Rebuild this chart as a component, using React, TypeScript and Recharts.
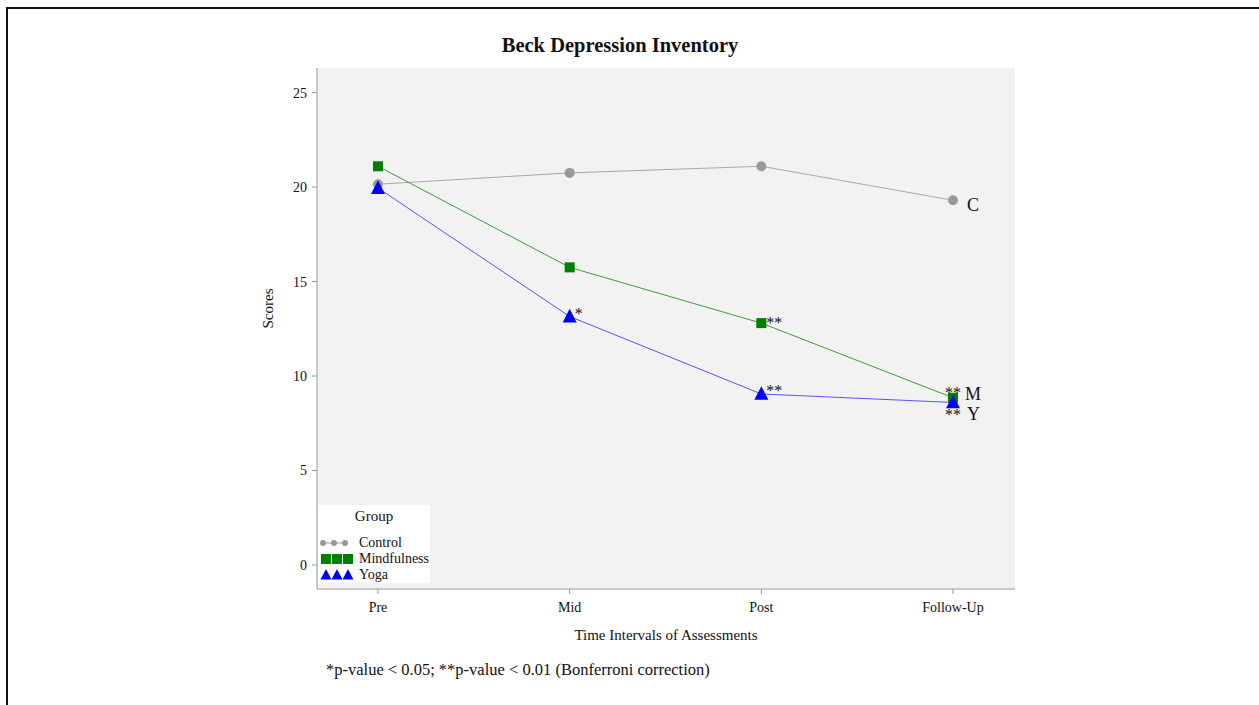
import React from 'react';
import {
  LineChart,
  Line,
  XAxis,
  YAxis,
  CartesianGrid,
  Legend,
  LabelList,
} from 'recharts';

const categories = ['Pre', 'Mid', 'Post', 'Follow-Up'];
const control = [20.15, 20.75, 21.1, 19.3];
const mindfulness = [21.1, 15.75, 12.8, 8.85];
const yoga = [19.95, 13.15, 9.05, 8.6];
const mindfulnessMarks = ['', '', '**', '**M'];
const yogaMarks = ['', '*', '**', '** Y'];
const controlMarks = ['', '', '', 'C'];
const yTicks = [0, 5, 10, 15, 20, 25];

const data = categories.map((name, i) => ({
  name,
  control: control[i],
  mindfulness: mindfulness[i],
  yoga: yoga[i],
  cMark: controlMarks[i],
  mMark: mindfulnessMarks[i],
  yMark: yogaMarks[i],
}));

const FONT = '"Liberation Serif", "DejaVu Serif", serif';
const GRAY = '#999999';
const GREEN = '#008000';
const BLUE = '#0000ff';

const tri = (cx: number, cy: number, s: number) =>
  `${cx},${cy - s * 0.55} ${cx - s / 2},${cy + s * 0.42} ${cx + s / 2},${cy + s * 0.42}`;

const CircleDot = (p: any) => <circle cx={p.cx} cy={p.cy} r={5} fill={GRAY} />;
const SquareDot = (p: any) => <rect x={p.cx - 5} y={p.cy - 5} width={10} height={10} fill={GREEN} />;
const TriDot = (p: any) => <polygon points={tri(p.cx, p.cy, 14)} fill={BLUE} />;

const controlLabel = (p: any) => {
  if (!p.value) return null;
  return (
    <text x={p.x + 14} y={p.y + 11} fontSize={18} fontFamily={FONT} fill="#111">
      {p.value}
    </text>
  );
};

const mindLabel = (p: any) => {
  if (!p.value) return null;
  if (p.value === '**M') {
    return (
      <g fontFamily={FONT} fill="#111">
        <text x={p.x - 8} y={p.y} fontSize={16}>**</text>
        <text x={p.x + 12} y={p.y + 2} fontSize={18}>M</text>
      </g>
    );
  }
  return (
    <text x={p.x + 5} y={p.y + 5} fontSize={16} fontFamily={FONT} fill="#111">
      {p.value}
    </text>
  );
};

const yogaLabel = (p: any) => {
  if (!p.value) return null;
  if (p.value === '** Y') {
    return (
      <g fontFamily={FONT} fill="#111">
        <text x={p.x - 8} y={p.y + 18} fontSize={16}>**</text>
        <text x={p.x + 14} y={p.y + 18} fontSize={18}>Y</text>
      </g>
    );
  }
  return (
    <text x={p.x + 5} y={p.y + 2} fontSize={16} fontFamily={FONT} fill="#111">
      {p.value}
    </text>
  );
};

const LegendBox = () => (
  <div style={{ background: '#fff', width: 112, height: 78, position: 'relative' }}>
    <svg width={112} height={78} style={{ position: 'absolute', left: 0, top: 0 }}>
      <text x={56} y={16} fontSize={15} fontFamily={FONT} fill="#111" textAnchor="middle">Group</text>
      <line x1={5} x2={27} y1={38} y2={38} stroke={GRAY} />
      {[5, 16, 27].map((x) => <circle key={x} cx={x} cy={38} r={3} fill={GRAY} />)}
      {[8, 19, 30].map((x) => <rect key={x} x={x - 5} y={49} width={10} height={10} fill={GREEN} />)}
      {[8, 19, 30].map((x) => <polygon key={x} points={tri(x, 70, 11)} fill={BLUE} />)}
      <text x={41} y={42} fontSize={14} fontFamily={FONT} fill="#111">Control</text>
      <text x={41} y={58} fontSize={14} fontFamily={FONT} fill="#111">Mindfulness</text>
      <text x={41} y={74} fontSize={14} fontFamily={FONT} fill="#111">Yoga</text>
    </svg>
  </div>
);

export default function App() {
  return (
    <div style={{ position: 'absolute', left: 0, top: 0, width: 1259, height: 705, background: '#fff', overflow: 'hidden' }}>
      <div
        style={{
          position: 'absolute',
          left: 6,
          top: 7,
          width: 1300,
          height: 720,
          borderTop: '2px solid #111',
          borderLeft: '2px solid #111',
        }}
      />
      <div
        style={{
          position: 'absolute',
          left: 420,
          width: 400,
          top: 34,
          textAlign: 'center',
          fontFamily: FONT,
          fontWeight: 'bold',
          fontSize: 20.5,
          color: '#111',
        }}
      >
        Beck Depression Inventory
      </div>
      <div style={{ position: 'absolute', left: 0, top: 0 }}>
        <LineChart width={1259} height={705} data={data} margin={{ top: 68, right: 244, bottom: 86, left: 257 }}>
          <CartesianGrid fill="#f2f2f2" horizontal={false} vertical={false} />
          <XAxis
            dataKey="name"
            padding={{ left: 61, right: 62 }}
            height={30}
            stroke={GRAY}
            tickSize={5}
            tickMargin={8}
            tick={{ fill: '#111', fontSize: 14, fontFamily: FONT }}
            label={{ value: 'Time Intervals of Assessments', position: 'bottom', offset: 10, fill: '#111', fontSize: 15, fontFamily: FONT }}
          />
          <XAxis xAxisId="top" dataKey="name" orientation="top" height={0} tick={false} tickLine={false} stroke={GRAY} />
          <YAxis
            domain={[-1.27, 26.3]}
            ticks={yTicks}
            allowDataOverflow
            width={60}
            stroke={GRAY}
            tickSize={5}
            tickMargin={5}
            tick={{ fill: '#111', fontSize: 14, fontFamily: FONT }}
            label={{ value: 'Scores', angle: -90, position: 'insideLeft', offset: 11, fill: '#111', fontSize: 15, fontFamily: FONT }}
          />
          <YAxis yAxisId="right" orientation="right" width={0} tick={false} tickLine={false} stroke={GRAY} />
          <Legend
            layout="horizontal"
            verticalAlign="middle"
            align="center"
            content={() => <LegendBox />}
            wrapperStyle={{ position: 'absolute', left: 318, top: 505, width: 112, height: 78 }}
          />
          <Line dataKey="control" stroke="#a8a8a8" strokeWidth={1} dot={<CircleDot />} activeDot={false} isAnimationActive={false}>
            <LabelList dataKey="cMark" content={controlLabel} />
          </Line>
          <Line dataKey="mindfulness" stroke="#3f9a3f" strokeWidth={1} dot={<SquareDot />} activeDot={false} isAnimationActive={false}>
            <LabelList dataKey="mMark" content={mindLabel} />
          </Line>
          <Line dataKey="yoga" stroke="#5555ff" strokeWidth={1} dot={<TriDot />} activeDot={false} isAnimationActive={false}>
            <LabelList dataKey="yMark" content={yogaLabel} />
          </Line>
        </LineChart>
      </div>
      <div
        style={{
          position: 'absolute',
          left: 326,
          top: 660,
          fontFamily: FONT,
          fontSize: 16.5,
          color: '#111',
        }}
      >
        *p-value &lt; 0.05; **p-value &lt; 0.01 (Bonferroni correction)
      </div>
    </div>
  );
}
